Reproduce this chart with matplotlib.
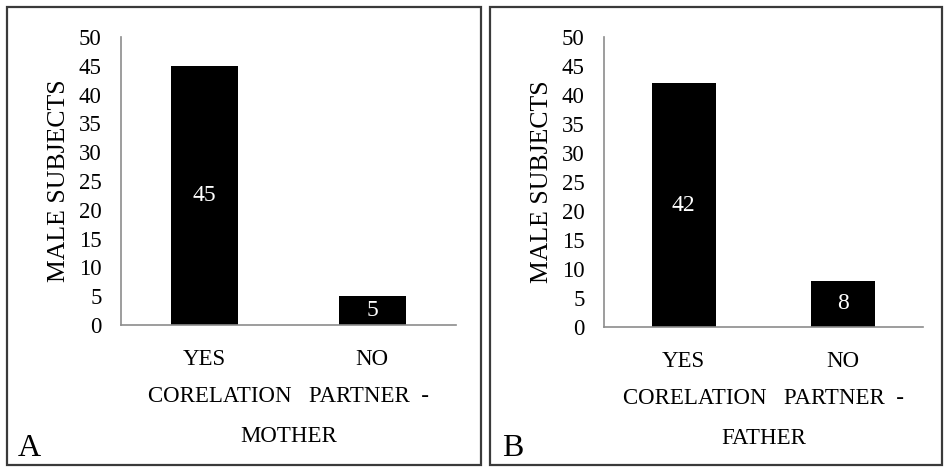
import matplotlib.pyplot as plt
from matplotlib.patches import Rectangle

# data
categories = ['YES', 'NO']
mother_vals = [45, 5]
father_vals = [42, 8]
panel_letters = ['A', 'B']
xlabels = ['CORELATION   PARTNER  -\nMOTHER', 'CORELATION   PARTNER  -\nFATHER']
ylabel = 'MALE SUBJECTS'
yticks = list(range(0, 55, 5))

plt.rcParams['font.family'] = ['Liberation Serif', 'DejaVu Serif']

W, H = 945, 468
fig = plt.figure(figsize=(W / 100, H / 100), dpi=100)

# panel frames (pixels: x0, y0, x1, y1 from top left)
frames = [(7, 7, 481, 465), (490, 7, 942, 465)]
for x0, y0, x1, y1 in frames:
    fig.patches.append(Rectangle((x0 / W, 1 - y1 / H), (x1 - x0) / W, (y1 - y0) / H,
                                 transform=fig.transFigure, fill=False,
                                 edgecolor='#3a3a3a', linewidth=1.6))

# axes boxes in pixels: left, top(50), right, bottom(0)
boxes = [(121, 37, 456, 325), (604, 37, 923, 327)]
datasets = [mother_vals, father_vals]
label_x = [18, 502]

for i, (vals, box) in enumerate(zip(datasets, boxes)):
    l, t, r, b = box
    ax = fig.add_axes([l / W, 1 - b / H, (r - l) / W, (b - t) / H])
    x = range(len(categories))
    bars = ax.bar(x, vals, width=0.4, color='black')
    ax.set_xlim(-0.5, 1.5)
    ax.set_ylim(0, 50)
    ax.set_yticks(yticks)
    ax.set_xticks(list(x))
    ax.set_xticklabels(categories)
    ax.tick_params(length=0, labelsize=16.5)
    ax.tick_params(axis='y', pad=14)
    ax.tick_params(axis='x', pad=17)
    for side in ['top', 'right']:
        ax.spines[side].set_visible(False)
    for side in ['left', 'bottom']:
        ax.spines[side].set_color('#8c8c8c')
        ax.spines[side].set_linewidth(1.2)
    ax.bar_label(bars, label_type='center', color='white', fontsize=17)
    ax.set_ylabel(ylabel, fontsize=18.5, labelpad=6)
    ax.set_xlabel(xlabels[i], fontsize=16.5, linespacing=2.15, labelpad=12)
    fig.text(label_x[i] / W, 1 - 449 / H, panel_letters[i], fontsize=23,
             va='center', ha='left')

fig.savefig('out.png', dpi=100)
